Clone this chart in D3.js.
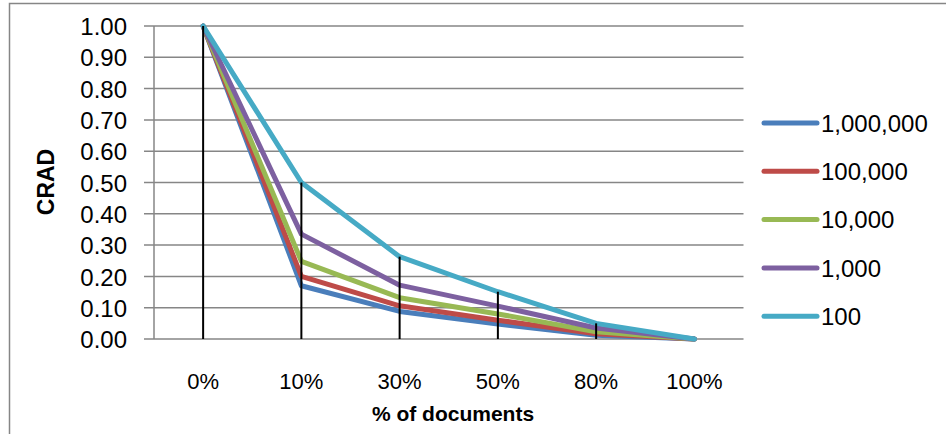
<!DOCTYPE html>
<html>
<head>
<meta charset="utf-8">
<script src="https://cdn.jsdelivr.net/npm/d3@7/dist/d3.min.js"></script>
<style>
  html, body { margin: 0; padding: 0; background: #fff; }
  svg { display: block; }
  text { font-family: "Liberation Sans", Arial, sans-serif; fill: #000; }
</style>
</head>
<body>
<svg id="chart" width="946" height="434"></svg>
<script>
const categories = ["0%", "10%", "30%", "50%", "80%", "100%"];
const seriesNames = ["1,000,000", "100,000", "10,000", "1,000", "100"];
const seriesColors = ["#4A7EBB", "#BE4B48", "#98B954", "#7D60A0", "#46AAC5"];
const values_1000000 = [1.00, 0.17, 0.088, 0.048, 0.012, 0.00];
const values_100000  = [1.00, 0.20, 0.106, 0.060, 0.017, 0.00];
const values_10000   = [1.00, 0.248, 0.132, 0.080, 0.023, 0.00];
const values_1000    = [1.00, 0.335, 0.172, 0.105, 0.035, 0.00];
const values_100     = [1.00, 0.50, 0.263, 0.151, 0.050, 0.00];
const seriesValues = [values_1000000, values_100000, values_10000, values_1000, values_100];
const yTicks = [0, 0.1, 0.2, 0.3, 0.4, 0.5, 0.6, 0.7, 0.8, 0.9, 1.0];
const yTitle = "CRAD";
const xTitle = "% of documents";

const svg = d3.select("#chart");
const gridColor = "#868686";

// outer chart border
svg.append("rect")
  .attr("x", 9.5).attr("y", 3.5)
  .attr("width", 960).attr("height", 460)
  .attr("fill", "none").attr("stroke", gridColor).attr("stroke-width", 1.5);

const plotLeft = 154, plotRight = 743.5, plotTop = 26, plotBottom = 339;

const x = d3.scaleBand().domain(categories).range([plotLeft, plotRight]).padding(0);
const cx = c => x(c) + x.bandwidth() / 2;
const y = d3.scaleLinear().domain([0, 1]).range([plotBottom, plotTop]);

// gridlines (extend left as ticks)
const grid = svg.append("g");
grid.selectAll("line").data(yTicks).join("line")
  .attr("x1", plotLeft - 10).attr("x2", plotRight)
  .attr("y1", d => y(d)).attr("y2", d => y(d))
  .attr("stroke", gridColor).attr("stroke-width", 1.5);

// y axis line
svg.append("line")
  .attr("x1", plotLeft).attr("x2", plotLeft)
  .attr("y1", y(1)).attr("y2", y(0))
  .attr("stroke", gridColor).attr("stroke-width", 1.5);

// y tick labels via axis
const yAxis = d3.axisLeft(y).tickValues(yTicks).tickFormat(d3.format(".2f")).tickSize(0).tickPadding(0);
const yg = svg.append("g").attr("transform", `translate(127,0)`).call(yAxis);
yg.select(".domain").remove();
yg.selectAll("text").style("font-size", "24px").style("font-family", "Liberation Sans, Arial, sans-serif").attr("fill", "#000").attr("dy", "0.36em");

// x tick labels via axis
const xAxis = d3.axisBottom(x).tickSize(0).tickPadding(0);
const xg = svg.append("g").attr("transform", `translate(0,${plotBottom})`).call(xAxis);
xg.select(".domain").remove();
xg.selectAll("text").style("font-size", "22px").style("font-family", "Liberation Sans, Arial, sans-serif").attr("fill", "#000").attr("y", 50).attr("dy", 0);

// series lines
const line = d3.line().x((d, i) => cx(categories[i])).y(d => y(d));
seriesValues.forEach((vals, s) => {
  svg.append("path")
    .attr("d", line(vals))
    .attr("fill", "none")
    .attr("stroke", seriesColors[s])
    .attr("stroke-width", 5)
    .attr("stroke-linejoin", "round")
    .attr("stroke-linecap", "round");
});

// drop lines from max value to axis
svg.append("g").selectAll("line").data(categories).join("line")
  .attr("x1", d => cx(d)).attr("x2", d => cx(d))
  .attr("y1", (d, i) => y(d3.max(seriesValues, v => v[i])))
  .attr("y2", y(0))
  .attr("stroke", "#000").attr("stroke-width", 2);

// axis titles
svg.append("text")
  .attr("transform", `translate(54,182) rotate(-90)`)
  .attr("text-anchor", "middle")
  .style("font-size", "23px").style("font-weight", "bold")
  .text(yTitle);
svg.append("text")
  .attr("x", 453).attr("y", 421)
  .attr("text-anchor", "middle")
  .style("font-size", "21px").style("font-weight", "bold")
  .text(xTitle);

// legend
const legend = svg.append("g");
seriesNames.forEach((name, i) => {
  const ly = 123 + i * 48.3;
  legend.append("line")
    .attr("x1", 764).attr("x2", 817)
    .attr("y1", ly).attr("y2", ly)
    .attr("stroke", seriesColors[i]).attr("stroke-width", 5)
    .attr("stroke-linecap", "round");
  legend.append("text")
    .attr("x", 821).attr("y", ly).attr("dy", "0.36em")
    .style("font-size", "24px")
    .text(name);
});
</script>
</body>
</html>
